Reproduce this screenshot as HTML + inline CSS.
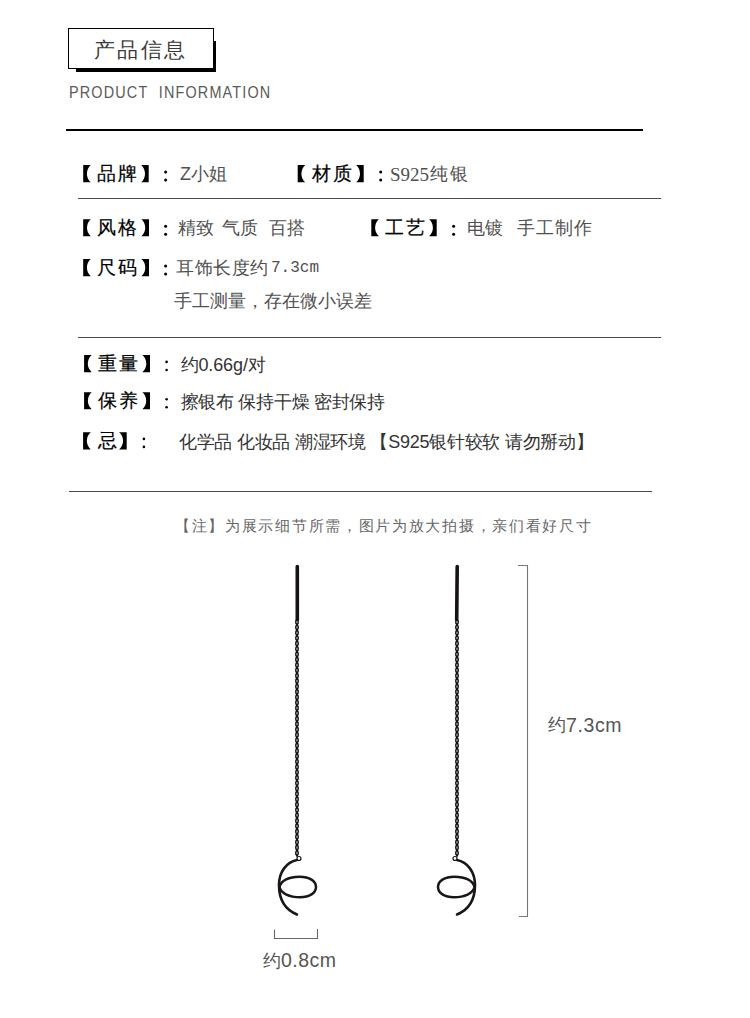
<!DOCTYPE html>
<html><head><meta charset="utf-8">
<style>
html,body{margin:0;padding:0;background:#fff;}
body{width:750px;height:1018px;position:relative;overflow:hidden;font-family:"Liberation Sans",sans-serif;}
.a{position:absolute;white-space:nowrap;line-height:1;}
.ln{position:absolute;}
.lb{font-weight:400;color:#000;-webkit-text-stroke:0.2px #000;}
</style></head><body>
<div class="ln" style="left:76px;top:41px;width:140px;height:31px;background:#000"></div><div class="ln" style="left:68px;top:28px;width:144px;height:39px;border:1px solid #000;background:#fff"></div><span class="a" style="left:94px;top:38.7px;font-size:21px;color:#3a3a3a;letter-spacing:2.3px;">产品信息</span><span class="a" style="left:69px;top:85px;font-size:16px;color:#5a5a5a;letter-spacing:1.3px;transform:scaleX(0.9);transform-origin:0 0">PRODUCT&nbsp; INFORMATION</span><div class="ln" style="left:66px;top:129px;width:577px;height:2px;background:#000"></div><span class="a lb" style="left:97.2px;top:164.1px;font-size:19px">品</span><span class="a lb" style="left:118.2px;top:164.1px;font-size:19px">牌</span><span class="a" style="left:180px;top:165px;font-size:18px;color:#505050;letter-spacing:0px;">Z小姐</span><span class="a lb" style="left:311.7px;top:164.1px;font-size:19px">材</span><span class="a lb" style="left:332.7px;top:164.1px;font-size:19px">质</span><span class="a" style="left:390px;top:164.5px;font-size:19px;color:#505050;letter-spacing:0px;font-family:'Liberation Serif',serif">S925</span><span class="a" style="left:430px;top:165px;font-size:18px;color:#505050;letter-spacing:2px;">纯银</span><div class="ln" style="left:78px;top:198px;width:583px;height:1px;background:#4b4b4b"></div><span class="a lb" style="left:97.2px;top:218.3px;font-size:19px">风</span><span class="a lb" style="left:118.2px;top:218.3px;font-size:19px">格</span><span class="a" style="left:178px;top:219px;font-size:18px;color:#505050;letter-spacing:0px;">精致</span><span class="a" style="left:222px;top:219px;font-size:18px;color:#505050;letter-spacing:0px;">气质</span><span class="a" style="left:269px;top:219px;font-size:18px;color:#505050;letter-spacing:0px;">百搭</span><span class="a lb" style="left:385.3px;top:218.3px;font-size:19px">工</span><span class="a lb" style="left:406.3px;top:218.3px;font-size:19px">艺</span><span class="a" style="left:467px;top:219px;font-size:18px;color:#505050;letter-spacing:0px;">电镀</span><span class="a" style="left:517px;top:219px;font-size:18px;color:#505050;letter-spacing:1.1px;">手工制作</span><span class="a lb" style="left:97.2px;top:258.1px;font-size:19px">尺</span><span class="a lb" style="left:118.2px;top:258.1px;font-size:19px">码</span><span class="a" style="left:176px;top:259px;font-size:18px;color:#505050;letter-spacing:0.6px;">耳饰长度约</span><span class="a" style="left:271px;top:260px;font-size:16px;color:#505050;letter-spacing:0px;font-family:'Liberation Mono',monospace">7.3cm</span><span class="a" style="left:174px;top:292px;font-size:18px;color:#505050;letter-spacing:0px;">手工测量，存在微小误差</span><div class="ln" style="left:78px;top:337px;width:583px;height:1px;background:#4b4b4b"></div><span class="a lb" style="left:98.1px;top:354px;font-size:19px">重</span><span class="a lb" style="left:119.1px;top:354px;font-size:19px">量</span><span class="a" style="left:180.5px;top:356px;font-size:18px;color:#333;letter-spacing:-0.1px;">约0.66g/对</span><span class="a lb" style="left:98.1px;top:391.3px;font-size:19px">保</span><span class="a lb" style="left:119.1px;top:391.3px;font-size:19px">养</span><span class="a" style="left:180.5px;top:393px;font-size:18px;color:#333;letter-spacing:-0.28px;">擦银布 保持干燥 密封保持</span><span class="a lb" style="left:98px;top:431px;font-size:19px">忌</span><span class="a" style="left:179px;top:433px;font-size:18px;color:#333;letter-spacing:-0.27px;">化学品 化妆品 潮湿环境 【S925银针较软 请勿掰动】</span><div class="ln" style="left:69px;top:491px;width:583px;height:1px;background:#4b4b4b"></div><span class="a" style="left:175px;top:517.5px;font-size:15px;color:#666;letter-spacing:1.7px;">【注】为展示细节所需，图片为放大拍摄，亲们看好尺寸</span><svg class="ln" style="left:0;top:0" width="750" height="1018" viewBox="0 0 750 1018"><line x1="297.3" y1="566.5" x2="297.3" y2="619.5" stroke="#161212" stroke-width="3.6" stroke-linecap="round"/><ellipse cx="297" cy="622.00" rx="1.2" ry="2.25" fill="none" stroke="#141010" stroke-width="1.45"/><ellipse cx="297" cy="624.69" rx="0.9" ry="1.7" fill="#141010"/><ellipse cx="297" cy="627.37" rx="1.2" ry="2.25" fill="none" stroke="#141010" stroke-width="1.45"/><ellipse cx="297" cy="630.06" rx="0.9" ry="1.7" fill="#141010"/><ellipse cx="297" cy="632.74" rx="1.2" ry="2.25" fill="none" stroke="#141010" stroke-width="1.45"/><ellipse cx="297" cy="635.43" rx="0.9" ry="1.7" fill="#141010"/><ellipse cx="297" cy="638.11" rx="1.2" ry="2.25" fill="none" stroke="#141010" stroke-width="1.45"/><ellipse cx="297" cy="640.80" rx="0.9" ry="1.7" fill="#141010"/><ellipse cx="297" cy="643.48" rx="1.2" ry="2.25" fill="none" stroke="#141010" stroke-width="1.45"/><ellipse cx="297" cy="646.17" rx="0.9" ry="1.7" fill="#141010"/><ellipse cx="297" cy="648.85" rx="1.2" ry="2.25" fill="none" stroke="#141010" stroke-width="1.45"/><ellipse cx="297" cy="651.54" rx="0.9" ry="1.7" fill="#141010"/><ellipse cx="297" cy="654.22" rx="1.2" ry="2.25" fill="none" stroke="#141010" stroke-width="1.45"/><ellipse cx="297" cy="656.91" rx="0.9" ry="1.7" fill="#141010"/><ellipse cx="297" cy="659.59" rx="1.2" ry="2.25" fill="none" stroke="#141010" stroke-width="1.45"/><ellipse cx="297" cy="662.28" rx="0.9" ry="1.7" fill="#141010"/><ellipse cx="297" cy="664.96" rx="1.2" ry="2.25" fill="none" stroke="#141010" stroke-width="1.45"/><ellipse cx="297" cy="667.65" rx="0.9" ry="1.7" fill="#141010"/><ellipse cx="297" cy="670.33" rx="1.2" ry="2.25" fill="none" stroke="#141010" stroke-width="1.45"/><ellipse cx="297" cy="673.02" rx="0.9" ry="1.7" fill="#141010"/><ellipse cx="297" cy="675.70" rx="1.2" ry="2.25" fill="none" stroke="#141010" stroke-width="1.45"/><ellipse cx="297" cy="678.39" rx="0.9" ry="1.7" fill="#141010"/><ellipse cx="297" cy="681.07" rx="1.2" ry="2.25" fill="none" stroke="#141010" stroke-width="1.45"/><ellipse cx="297" cy="683.76" rx="0.9" ry="1.7" fill="#141010"/><ellipse cx="297" cy="686.44" rx="1.2" ry="2.25" fill="none" stroke="#141010" stroke-width="1.45"/><ellipse cx="297" cy="689.13" rx="0.9" ry="1.7" fill="#141010"/><ellipse cx="297" cy="691.81" rx="1.2" ry="2.25" fill="none" stroke="#141010" stroke-width="1.45"/><ellipse cx="297" cy="694.50" rx="0.9" ry="1.7" fill="#141010"/><ellipse cx="297" cy="697.18" rx="1.2" ry="2.25" fill="none" stroke="#141010" stroke-width="1.45"/><ellipse cx="297" cy="699.87" rx="0.9" ry="1.7" fill="#141010"/><ellipse cx="297" cy="702.55" rx="1.2" ry="2.25" fill="none" stroke="#141010" stroke-width="1.45"/><ellipse cx="297" cy="705.24" rx="0.9" ry="1.7" fill="#141010"/><ellipse cx="297" cy="707.92" rx="1.2" ry="2.25" fill="none" stroke="#141010" stroke-width="1.45"/><ellipse cx="297" cy="710.61" rx="0.9" ry="1.7" fill="#141010"/><ellipse cx="297" cy="713.29" rx="1.2" ry="2.25" fill="none" stroke="#141010" stroke-width="1.45"/><ellipse cx="297" cy="715.98" rx="0.9" ry="1.7" fill="#141010"/><ellipse cx="297" cy="718.66" rx="1.2" ry="2.25" fill="none" stroke="#141010" stroke-width="1.45"/><ellipse cx="297" cy="721.35" rx="0.9" ry="1.7" fill="#141010"/><ellipse cx="297" cy="724.03" rx="1.2" ry="2.25" fill="none" stroke="#141010" stroke-width="1.45"/><ellipse cx="297" cy="726.72" rx="0.9" ry="1.7" fill="#141010"/><ellipse cx="297" cy="729.40" rx="1.2" ry="2.25" fill="none" stroke="#141010" stroke-width="1.45"/><ellipse cx="297" cy="732.09" rx="0.9" ry="1.7" fill="#141010"/><ellipse cx="297" cy="734.77" rx="1.2" ry="2.25" fill="none" stroke="#141010" stroke-width="1.45"/><ellipse cx="297" cy="737.46" rx="0.9" ry="1.7" fill="#141010"/><ellipse cx="297" cy="740.14" rx="1.2" ry="2.25" fill="none" stroke="#141010" stroke-width="1.45"/><ellipse cx="297" cy="742.83" rx="0.9" ry="1.7" fill="#141010"/><ellipse cx="297" cy="745.51" rx="1.2" ry="2.25" fill="none" stroke="#141010" stroke-width="1.45"/><ellipse cx="297" cy="748.20" rx="0.9" ry="1.7" fill="#141010"/><ellipse cx="297" cy="750.88" rx="1.2" ry="2.25" fill="none" stroke="#141010" stroke-width="1.45"/><ellipse cx="297" cy="753.57" rx="0.9" ry="1.7" fill="#141010"/><ellipse cx="297" cy="756.25" rx="1.2" ry="2.25" fill="none" stroke="#141010" stroke-width="1.45"/><ellipse cx="297" cy="758.94" rx="0.9" ry="1.7" fill="#141010"/><ellipse cx="297" cy="761.62" rx="1.2" ry="2.25" fill="none" stroke="#141010" stroke-width="1.45"/><ellipse cx="297" cy="764.31" rx="0.9" ry="1.7" fill="#141010"/><ellipse cx="297" cy="766.99" rx="1.2" ry="2.25" fill="none" stroke="#141010" stroke-width="1.45"/><ellipse cx="297" cy="769.68" rx="0.9" ry="1.7" fill="#141010"/><ellipse cx="297" cy="772.36" rx="1.2" ry="2.25" fill="none" stroke="#141010" stroke-width="1.45"/><ellipse cx="297" cy="775.05" rx="0.9" ry="1.7" fill="#141010"/><ellipse cx="297" cy="777.73" rx="1.2" ry="2.25" fill="none" stroke="#141010" stroke-width="1.45"/><ellipse cx="297" cy="780.42" rx="0.9" ry="1.7" fill="#141010"/><ellipse cx="297" cy="783.10" rx="1.2" ry="2.25" fill="none" stroke="#141010" stroke-width="1.45"/><ellipse cx="297" cy="785.79" rx="0.9" ry="1.7" fill="#141010"/><ellipse cx="297" cy="788.47" rx="1.2" ry="2.25" fill="none" stroke="#141010" stroke-width="1.45"/><ellipse cx="297" cy="791.16" rx="0.9" ry="1.7" fill="#141010"/><ellipse cx="297" cy="793.84" rx="1.2" ry="2.25" fill="none" stroke="#141010" stroke-width="1.45"/><ellipse cx="297" cy="796.53" rx="0.9" ry="1.7" fill="#141010"/><ellipse cx="297" cy="799.21" rx="1.2" ry="2.25" fill="none" stroke="#141010" stroke-width="1.45"/><ellipse cx="297" cy="801.90" rx="0.9" ry="1.7" fill="#141010"/><ellipse cx="297" cy="804.58" rx="1.2" ry="2.25" fill="none" stroke="#141010" stroke-width="1.45"/><ellipse cx="297" cy="807.27" rx="0.9" ry="1.7" fill="#141010"/><ellipse cx="297" cy="809.95" rx="1.2" ry="2.25" fill="none" stroke="#141010" stroke-width="1.45"/><ellipse cx="297" cy="812.64" rx="0.9" ry="1.7" fill="#141010"/><ellipse cx="297" cy="815.32" rx="1.2" ry="2.25" fill="none" stroke="#141010" stroke-width="1.45"/><ellipse cx="297" cy="818.01" rx="0.9" ry="1.7" fill="#141010"/><ellipse cx="297" cy="820.69" rx="1.2" ry="2.25" fill="none" stroke="#141010" stroke-width="1.45"/><ellipse cx="297" cy="823.38" rx="0.9" ry="1.7" fill="#141010"/><ellipse cx="297" cy="826.06" rx="1.2" ry="2.25" fill="none" stroke="#141010" stroke-width="1.45"/><ellipse cx="297" cy="828.75" rx="0.9" ry="1.7" fill="#141010"/><ellipse cx="297" cy="831.43" rx="1.2" ry="2.25" fill="none" stroke="#141010" stroke-width="1.45"/><ellipse cx="297" cy="834.12" rx="0.9" ry="1.7" fill="#141010"/><ellipse cx="297" cy="836.80" rx="1.2" ry="2.25" fill="none" stroke="#141010" stroke-width="1.45"/><ellipse cx="297" cy="839.49" rx="0.9" ry="1.7" fill="#141010"/><ellipse cx="297" cy="842.17" rx="1.2" ry="2.25" fill="none" stroke="#141010" stroke-width="1.45"/><ellipse cx="297" cy="844.86" rx="0.9" ry="1.7" fill="#141010"/><ellipse cx="297" cy="847.54" rx="1.2" ry="2.25" fill="none" stroke="#141010" stroke-width="1.45"/><ellipse cx="297" cy="850.23" rx="0.9" ry="1.7" fill="#141010"/><ellipse cx="297" cy="852.91" rx="1.2" ry="2.25" fill="none" stroke="#141010" stroke-width="1.45"/><ellipse cx="297" cy="855.60" rx="0.9" ry="1.7" fill="#141010"/><circle cx="299" cy="858.5" r="2" fill="none" stroke="#1a1616" stroke-width="1.2"/><path d="M297,860 C286.5,862 279,872 279,885 C279,900 286,910 297,914.5" fill="none" stroke="#1a1616" stroke-width="2.6" stroke-linecap="round"/><path d="M279.5,887 C281,880.5 289,876.8 299.5,876.8 C309.5,876.8 316,881 316,887 C316,893 309.5,897.2 300,897.2 C289.5,897.2 281,893.5 279.5,887" fill="none" stroke="#1a1616" stroke-width="2.5"/><line x1="457.2" y1="566.5" x2="456.7" y2="619.5" stroke="#161212" stroke-width="3.6" stroke-linecap="round"/><ellipse cx="457" cy="622.00" rx="1.2" ry="2.25" fill="none" stroke="#141010" stroke-width="1.45"/><ellipse cx="457" cy="624.69" rx="0.9" ry="1.7" fill="#141010"/><ellipse cx="457" cy="627.37" rx="1.2" ry="2.25" fill="none" stroke="#141010" stroke-width="1.45"/><ellipse cx="457" cy="630.06" rx="0.9" ry="1.7" fill="#141010"/><ellipse cx="457" cy="632.74" rx="1.2" ry="2.25" fill="none" stroke="#141010" stroke-width="1.45"/><ellipse cx="457" cy="635.43" rx="0.9" ry="1.7" fill="#141010"/><ellipse cx="457" cy="638.11" rx="1.2" ry="2.25" fill="none" stroke="#141010" stroke-width="1.45"/><ellipse cx="457" cy="640.80" rx="0.9" ry="1.7" fill="#141010"/><ellipse cx="457" cy="643.48" rx="1.2" ry="2.25" fill="none" stroke="#141010" stroke-width="1.45"/><ellipse cx="457" cy="646.17" rx="0.9" ry="1.7" fill="#141010"/><ellipse cx="457" cy="648.85" rx="1.2" ry="2.25" fill="none" stroke="#141010" stroke-width="1.45"/><ellipse cx="457" cy="651.54" rx="0.9" ry="1.7" fill="#141010"/><ellipse cx="457" cy="654.22" rx="1.2" ry="2.25" fill="none" stroke="#141010" stroke-width="1.45"/><ellipse cx="457" cy="656.91" rx="0.9" ry="1.7" fill="#141010"/><ellipse cx="457" cy="659.59" rx="1.2" ry="2.25" fill="none" stroke="#141010" stroke-width="1.45"/><ellipse cx="457" cy="662.28" rx="0.9" ry="1.7" fill="#141010"/><ellipse cx="457" cy="664.96" rx="1.2" ry="2.25" fill="none" stroke="#141010" stroke-width="1.45"/><ellipse cx="457" cy="667.65" rx="0.9" ry="1.7" fill="#141010"/><ellipse cx="457" cy="670.33" rx="1.2" ry="2.25" fill="none" stroke="#141010" stroke-width="1.45"/><ellipse cx="457" cy="673.02" rx="0.9" ry="1.7" fill="#141010"/><ellipse cx="457" cy="675.70" rx="1.2" ry="2.25" fill="none" stroke="#141010" stroke-width="1.45"/><ellipse cx="457" cy="678.39" rx="0.9" ry="1.7" fill="#141010"/><ellipse cx="457" cy="681.07" rx="1.2" ry="2.25" fill="none" stroke="#141010" stroke-width="1.45"/><ellipse cx="457" cy="683.76" rx="0.9" ry="1.7" fill="#141010"/><ellipse cx="457" cy="686.44" rx="1.2" ry="2.25" fill="none" stroke="#141010" stroke-width="1.45"/><ellipse cx="457" cy="689.13" rx="0.9" ry="1.7" fill="#141010"/><ellipse cx="457" cy="691.81" rx="1.2" ry="2.25" fill="none" stroke="#141010" stroke-width="1.45"/><ellipse cx="457" cy="694.50" rx="0.9" ry="1.7" fill="#141010"/><ellipse cx="457" cy="697.18" rx="1.2" ry="2.25" fill="none" stroke="#141010" stroke-width="1.45"/><ellipse cx="457" cy="699.87" rx="0.9" ry="1.7" fill="#141010"/><ellipse cx="457" cy="702.55" rx="1.2" ry="2.25" fill="none" stroke="#141010" stroke-width="1.45"/><ellipse cx="457" cy="705.24" rx="0.9" ry="1.7" fill="#141010"/><ellipse cx="457" cy="707.92" rx="1.2" ry="2.25" fill="none" stroke="#141010" stroke-width="1.45"/><ellipse cx="457" cy="710.61" rx="0.9" ry="1.7" fill="#141010"/><ellipse cx="457" cy="713.29" rx="1.2" ry="2.25" fill="none" stroke="#141010" stroke-width="1.45"/><ellipse cx="457" cy="715.98" rx="0.9" ry="1.7" fill="#141010"/><ellipse cx="457" cy="718.66" rx="1.2" ry="2.25" fill="none" stroke="#141010" stroke-width="1.45"/><ellipse cx="457" cy="721.35" rx="0.9" ry="1.7" fill="#141010"/><ellipse cx="457" cy="724.03" rx="1.2" ry="2.25" fill="none" stroke="#141010" stroke-width="1.45"/><ellipse cx="457" cy="726.72" rx="0.9" ry="1.7" fill="#141010"/><ellipse cx="457" cy="729.40" rx="1.2" ry="2.25" fill="none" stroke="#141010" stroke-width="1.45"/><ellipse cx="457" cy="732.09" rx="0.9" ry="1.7" fill="#141010"/><ellipse cx="457" cy="734.77" rx="1.2" ry="2.25" fill="none" stroke="#141010" stroke-width="1.45"/><ellipse cx="457" cy="737.46" rx="0.9" ry="1.7" fill="#141010"/><ellipse cx="457" cy="740.14" rx="1.2" ry="2.25" fill="none" stroke="#141010" stroke-width="1.45"/><ellipse cx="457" cy="742.83" rx="0.9" ry="1.7" fill="#141010"/><ellipse cx="457" cy="745.51" rx="1.2" ry="2.25" fill="none" stroke="#141010" stroke-width="1.45"/><ellipse cx="457" cy="748.20" rx="0.9" ry="1.7" fill="#141010"/><ellipse cx="457" cy="750.88" rx="1.2" ry="2.25" fill="none" stroke="#141010" stroke-width="1.45"/><ellipse cx="457" cy="753.57" rx="0.9" ry="1.7" fill="#141010"/><ellipse cx="457" cy="756.25" rx="1.2" ry="2.25" fill="none" stroke="#141010" stroke-width="1.45"/><ellipse cx="457" cy="758.94" rx="0.9" ry="1.7" fill="#141010"/><ellipse cx="457" cy="761.62" rx="1.2" ry="2.25" fill="none" stroke="#141010" stroke-width="1.45"/><ellipse cx="457" cy="764.31" rx="0.9" ry="1.7" fill="#141010"/><ellipse cx="457" cy="766.99" rx="1.2" ry="2.25" fill="none" stroke="#141010" stroke-width="1.45"/><ellipse cx="457" cy="769.68" rx="0.9" ry="1.7" fill="#141010"/><ellipse cx="457" cy="772.36" rx="1.2" ry="2.25" fill="none" stroke="#141010" stroke-width="1.45"/><ellipse cx="457" cy="775.05" rx="0.9" ry="1.7" fill="#141010"/><ellipse cx="457" cy="777.73" rx="1.2" ry="2.25" fill="none" stroke="#141010" stroke-width="1.45"/><ellipse cx="457" cy="780.42" rx="0.9" ry="1.7" fill="#141010"/><ellipse cx="457" cy="783.10" rx="1.2" ry="2.25" fill="none" stroke="#141010" stroke-width="1.45"/><ellipse cx="457" cy="785.79" rx="0.9" ry="1.7" fill="#141010"/><ellipse cx="457" cy="788.47" rx="1.2" ry="2.25" fill="none" stroke="#141010" stroke-width="1.45"/><ellipse cx="457" cy="791.16" rx="0.9" ry="1.7" fill="#141010"/><ellipse cx="457" cy="793.84" rx="1.2" ry="2.25" fill="none" stroke="#141010" stroke-width="1.45"/><ellipse cx="457" cy="796.53" rx="0.9" ry="1.7" fill="#141010"/><ellipse cx="457" cy="799.21" rx="1.2" ry="2.25" fill="none" stroke="#141010" stroke-width="1.45"/><ellipse cx="457" cy="801.90" rx="0.9" ry="1.7" fill="#141010"/><ellipse cx="457" cy="804.58" rx="1.2" ry="2.25" fill="none" stroke="#141010" stroke-width="1.45"/><ellipse cx="457" cy="807.27" rx="0.9" ry="1.7" fill="#141010"/><ellipse cx="457" cy="809.95" rx="1.2" ry="2.25" fill="none" stroke="#141010" stroke-width="1.45"/><ellipse cx="457" cy="812.64" rx="0.9" ry="1.7" fill="#141010"/><ellipse cx="457" cy="815.32" rx="1.2" ry="2.25" fill="none" stroke="#141010" stroke-width="1.45"/><ellipse cx="457" cy="818.01" rx="0.9" ry="1.7" fill="#141010"/><ellipse cx="457" cy="820.69" rx="1.2" ry="2.25" fill="none" stroke="#141010" stroke-width="1.45"/><ellipse cx="457" cy="823.38" rx="0.9" ry="1.7" fill="#141010"/><ellipse cx="457" cy="826.06" rx="1.2" ry="2.25" fill="none" stroke="#141010" stroke-width="1.45"/><ellipse cx="457" cy="828.75" rx="0.9" ry="1.7" fill="#141010"/><ellipse cx="457" cy="831.43" rx="1.2" ry="2.25" fill="none" stroke="#141010" stroke-width="1.45"/><ellipse cx="457" cy="834.12" rx="0.9" ry="1.7" fill="#141010"/><ellipse cx="457" cy="836.80" rx="1.2" ry="2.25" fill="none" stroke="#141010" stroke-width="1.45"/><ellipse cx="457" cy="839.49" rx="0.9" ry="1.7" fill="#141010"/><ellipse cx="457" cy="842.17" rx="1.2" ry="2.25" fill="none" stroke="#141010" stroke-width="1.45"/><ellipse cx="457" cy="844.86" rx="0.9" ry="1.7" fill="#141010"/><ellipse cx="457" cy="847.54" rx="1.2" ry="2.25" fill="none" stroke="#141010" stroke-width="1.45"/><ellipse cx="457" cy="850.23" rx="0.9" ry="1.7" fill="#141010"/><ellipse cx="457" cy="852.91" rx="1.2" ry="2.25" fill="none" stroke="#141010" stroke-width="1.45"/><ellipse cx="457" cy="855.60" rx="0.9" ry="1.7" fill="#141010"/><circle cx="455" cy="858.5" r="2" fill="none" stroke="#1a1616" stroke-width="1.2"/><path d="M457,860 C467.5,862 475,872 475,885 C475,900 468,910 457,914.5" fill="none" stroke="#1a1616" stroke-width="2.6" stroke-linecap="round"/><path d="M474.5,887 C473,880.5 465,876.8 454.5,876.8 C444.5,876.8 438,881 438,887 C438,893 444.5,897.2 454,897.2 C464.5,897.2 473,893.5 474.5,887" fill="none" stroke="#1a1616" stroke-width="2.5"/><path d="M518,565.5 H527.5 V916.5 H519" fill="none" stroke="#777" stroke-width="1.1"/><path d="M274.5,929.5 V938.5 H317.5 V929" fill="none" stroke="#666" stroke-width="1.1"/><path d="M83.2,165.1 L90.8,165.1 A11.4,11.4 0 0 0 90.8,182.3 L83.2,182.3 Z" fill="#000"/><path d="M148.7,165.1 L141.1,165.1 A11.4,11.4 0 0 1 141.1,182.3 L148.7,182.3 Z" fill="#000"/><circle cx="165.6" cy="172.0" r="1.5" fill="#000"/><circle cx="165.6" cy="180.1" r="1.5" fill="#000"/><path d="M297.7,165.1 L305.3,165.1 A11.4,11.4 0 0 0 305.3,182.3 L297.7,182.3 Z" fill="#000"/><path d="M363.7,165.1 L356.1,165.1 A11.4,11.4 0 0 1 356.1,182.3 L363.7,182.3 Z" fill="#000"/><circle cx="380.7" cy="172.0" r="1.5" fill="#000"/><circle cx="380.7" cy="180.1" r="1.5" fill="#000"/><path d="M83.2,219.3 L90.8,219.3 A11.4,11.4 0 0 0 90.8,236.3 L83.2,236.3 Z" fill="#000"/><path d="M149.0,219.3 L141.4,219.3 A11.4,11.4 0 0 1 141.4,236.3 L149.0,236.3 Z" fill="#000"/><circle cx="165.6" cy="226.2" r="1.5" fill="#000"/><circle cx="165.6" cy="234.3" r="1.5" fill="#000"/><path d="M371.3,219.3 L378.9,219.3 A11.4,11.4 0 0 0 378.9,236.3 L371.3,236.3 Z" fill="#000"/><path d="M436.7,219.3 L429.1,219.3 A11.4,11.4 0 0 1 429.1,236.3 L436.7,236.3 Z" fill="#000"/><circle cx="453.6" cy="226.2" r="1.5" fill="#000"/><circle cx="453.6" cy="234.3" r="1.5" fill="#000"/><path d="M83.2,259.1 L90.8,259.1 A11.4,11.4 0 0 0 90.8,276.2 L83.2,276.2 Z" fill="#000"/><path d="M149.0,259.1 L141.4,259.1 A11.4,11.4 0 0 1 141.4,276.2 L149.0,276.2 Z" fill="#000"/><circle cx="165.6" cy="266.1" r="1.5" fill="#000"/><circle cx="165.6" cy="274.1" r="1.5" fill="#000"/><path d="M84.1,355.0 L91.7,355.0 A11.4,11.4 0 0 0 91.7,372.2 L84.1,372.2 Z" fill="#000"/><path d="M150.0,355.0 L142.4,355.0 A11.4,11.4 0 0 1 142.4,372.2 L150.0,372.2 Z" fill="#000"/><circle cx="166.6" cy="361.9" r="1.3" fill="#000"/><circle cx="166.6" cy="370" r="1.3" fill="#000"/><path d="M84.1,392.3 L91.7,392.3 A11.4,11.4 0 0 0 91.7,409.3 L84.1,409.3 Z" fill="#000"/><path d="M150.0,392.3 L142.4,392.3 A11.4,11.4 0 0 1 142.4,409.3 L150.0,409.3 Z" fill="#000"/><circle cx="166.6" cy="399.2" r="1.3" fill="#000"/><circle cx="166.6" cy="407.3" r="1.3" fill="#000"/><path d="M83.1,432.2 L90.8,432.2 A11.4,11.4 0 0 0 90.8,449.5 L83.1,449.5 Z" fill="#000"/><path d="M126.7,432.2 L119.1,432.2 A11.4,11.4 0 0 1 119.1,449.5 L126.7,449.5 Z" fill="#000"/><circle cx="143.9" cy="438.9" r="1.3" fill="#000"/><circle cx="143.9" cy="446.9" r="1.3" fill="#000"/></svg><span class="a" style="left:548px;top:716px;font-size:18px;color:#555;letter-spacing:0px;">约</span><span class="a" style="left:566px;top:716px;font-size:19.5px;color:#555;letter-spacing:0.6px;">7.3cm</span><span class="a" style="left:263px;top:951.5px;font-size:18px;color:#555;letter-spacing:0px;">约</span><span class="a" style="left:281px;top:951.3px;font-size:19.5px;color:#555;letter-spacing:0.45px;">0.8cm</span>
</body></html>
